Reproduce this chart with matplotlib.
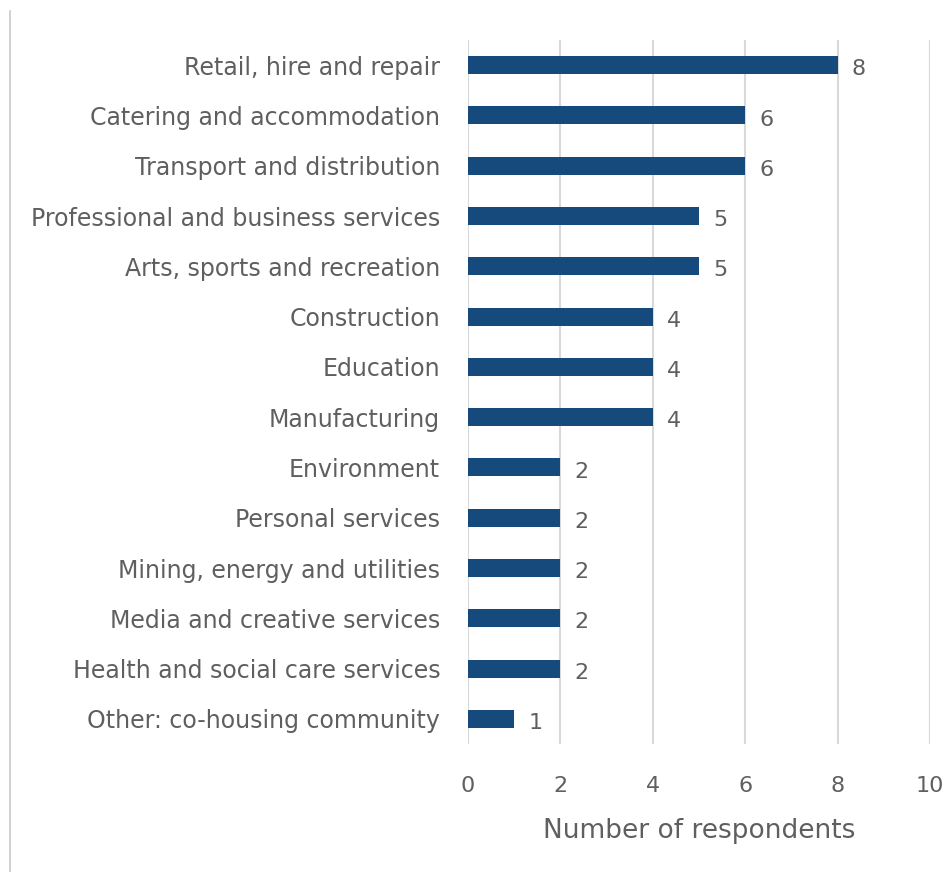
import matplotlib
matplotlib.use("Agg")
import matplotlib.pyplot as plt
from matplotlib.lines import Line2D

categories = [
    "Retail, hire and repair",
    "Catering and accommodation",
    "Transport and distribution",
    "Professional and business services",
    "Arts, sports and recreation",
    "Construction",
    "Education",
    "Manufacturing",
    "Environment",
    "Personal services",
    "Mining, energy and utilities",
    "Media and creative services",
    "Health and social care services",
    "Other: co-housing community",
]
respondents = [8, 6, 6, 5, 5, 4, 4, 4, 2, 2, 2, 2, 2, 1]
xticks = [0, 2, 4, 6, 8, 10]

plt.rcParams["font.family"] = ["DejaVu Sans"]
text_color = "#5f5f5f"
bar_color = "#174A7C"

fig = plt.figure(figsize=(9.46, 8.72), dpi=100)
ax = fig.add_axes([468 / 946, 1 - 744 / 872, 462 / 946, 704 / 872])

y = list(range(len(categories)))
ax.barh(y, respondents, height=0.36, color=bar_color, zorder=3)
for yi, v in zip(y, respondents):
    ax.annotate(str(v), xy=(v, yi), xytext=(10, -3), textcoords="offset points",
                ha="left", va="center", fontsize=16, color=text_color)

ax.set_ylim(len(categories) - 0.5, -0.5)
ax.set_xlim(0, 10)
ax.set_xticks(xticks)
ax.set_yticks(y)
ax.set_yticklabels(categories)
ax.tick_params(axis="y", length=0, pad=20, labelsize=17, labelcolor=text_color)
ax.tick_params(axis="x", length=0, pad=23, labelsize=16, labelcolor=text_color)
ax.grid(axis="x", color="#d9d9d9", linewidth=1.5, zorder=0)
for s in ax.spines.values():
    s.set_visible(False)
ax.set_xlabel("Number of respondents", fontsize=19, color=text_color, labelpad=16)

fig.add_artist(Line2D([10 / 946, 10 / 946], [0, 1 - 11 / 872], color="#c8c8c8", linewidth=1.2))

fig.savefig("out.png", dpi=100, facecolor="white")
